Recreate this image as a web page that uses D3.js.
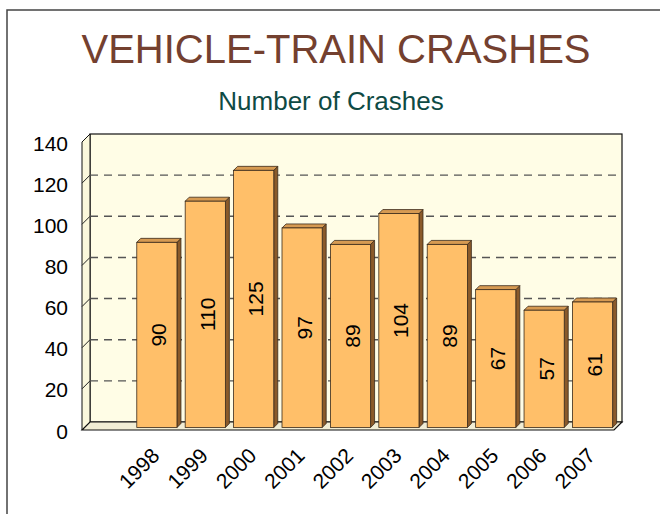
<!DOCTYPE html>
<html>
<head>
<meta charset="utf-8">
<script src="https://cdn.jsdelivr.net/npm/d3@7"></script>
<style>
  body { margin: 0; background: #fff; }
  svg text { font-family: "Liberation Sans", Arial, Helvetica, sans-serif; }
</style>
</head>
<body>
<svg id="chart" width="660" height="514"></svg>
<script>
// chart data
var years = ["1998", "1999", "2000", "2001", "2002", "2003", "2004", "2005", "2006", "2007"];
var crashes = [90, 110, 125, 97, 89, 104, 89, 67, 57, 61];
var yTicks = [0, 20, 40, 60, 80, 100, 120, 140];

var svg = d3.select('#chart');

// frame around the slide
svg.append('path')
  .attr('d', 'M7,514 L7,10 L660,10')
  .attr('fill', 'none')
  .attr('stroke', '#444')
  .attr('stroke-width', 1.5);

// titles
svg.append('text')
  .attr('x', 336).attr('y', 63)
  .attr('text-anchor', 'middle')
  .attr('font-size', 40)
  .attr('fill', '#74402f')
  .text('VEHICLE-TRAIN CRASHES');
svg.append('text')
  .attr('x', 331).attr('y', 110)
  .attr('text-anchor', 'middle')
  .attr('font-size', 26)
  .attr('fill', '#0e4a44')
  .text('Number of Crashes');

// 3d plot box
var left = 82, right = 614, depth = 8;
var y = d3.scaleLinear().domain([0, 140]).range([430, 142]);
var y0 = y(0), yTop = y(140);

// empty first slot, like the original sheet
var x = d3.scaleBand().domain([''].concat(years)).range([left, right]).paddingInner(0.17).paddingOuter(0.08);

var box = svg.append('g');
// back wall
box.append('rect')
  .attr('x', left + depth).attr('y', yTop - depth)
  .attr('width', right - left).attr('height', y0 - yTop)
  .attr('fill', '#fffde6').attr('stroke', '#111').attr('stroke-width', 1.2);
// side wall
box.append('path')
  .attr('d', 'M' + left + ',' + y0 + ' L' + left + ',' + yTop + ' L' + (left + depth) + ',' + (yTop - depth) + ' L' + (left + depth) + ',' + (y0 - depth) + 'Z')
  .attr('fill', '#fbf8dc').attr('stroke', '#111').attr('stroke-width', 1);
// floor
box.append('path')
  .attr('d', 'M' + left + ',' + y0 + ' L' + right + ',' + y0 + ' L' + (right + depth) + ',' + (y0 - depth) + ' L' + (left + depth) + ',' + (y0 - depth) + 'Z')
  .attr('fill', '#f1edd4').attr('stroke', '#111').attr('stroke-width', 1.2);

// gridlines on back wall and side wall
var grid = box.append('g');
yTicks.filter(function(v) { return v > 0 && v < 140; }).forEach(function(v) {
  grid.append('line')
    .attr('x1', left + depth).attr('x2', right + depth)
    .attr('y1', y(v) - depth).attr('y2', y(v) - depth)
    .attr('stroke', '#555').attr('stroke-width', 1.4)
    .attr('stroke-dasharray', '8,6');
  grid.append('line')
    .attr('x1', left).attr('x2', left + depth)
    .attr('y1', y(v)).attr('y2', y(v) - depth)
    .attr('stroke', '#222').attr('stroke-width', 1);
});

// y axis labels
svg.append('g').selectAll('text')
  .data(yTicks).enter().append('text')
  .attr('x', 68)
  .attr('y', function(d) { return y(d) + 1; })
  .attr('text-anchor', 'end')
  .attr('dominant-baseline', 'central')
  .attr('font-size', 21)
  .attr('fill', '#000')
  .text(function(d) { return d; });

// bars
var bd = 2.5, bdepth = 4;
var bars = svg.append('g').selectAll('g')
  .data(years).enter().append('g');

bars.each(function(yr, i) {
  var g = d3.select(this);
  var bx = x(yr) + bd, bw = x.bandwidth();
  var base = y0 - bd, top = y(crashes[i]) - bd;
  g.append('path')
    .attr('d', 'M' + (bx + bw) + ',' + top + ' L' + (bx + bw + bdepth) + ',' + (top - bdepth) + ' L' + (bx + bw + bdepth) + ',' + (base - bdepth) + ' L' + (bx + bw) + ',' + base + 'Z')
    .attr('fill', '#8a5a2a').attr('stroke', '#3a2a1a').attr('stroke-width', 0.8);
  g.append('path')
    .attr('d', 'M' + bx + ',' + top + ' L' + (bx + bdepth) + ',' + (top - bdepth) + ' L' + (bx + bw + bdepth) + ',' + (top - bdepth) + ' L' + (bx + bw) + ',' + top + 'Z')
    .attr('fill', '#d69a52').attr('stroke', '#3a2a1a').attr('stroke-width', 0.8);
  g.append('rect')
    .attr('x', bx).attr('y', top)
    .attr('width', bw).attr('height', base - top)
    .attr('fill', '#ffbf69').attr('stroke', '#3a2a1a').attr('stroke-width', 0.8);
  var cx = bx + bw / 2 + 2, cy = (top + base) / 2;
  g.append('text')
    .attr('transform', 'translate(' + cx + ',' + cy + ') rotate(-90)')
    .attr('text-anchor', 'middle')
    .attr('dominant-baseline', 'central')
    .attr('font-size', 21)
    .attr('fill', '#000')
    .text(crashes[i]);
});

// x axis labels
svg.append('g').selectAll('text')
  .data(years).enter().append('text')
  .attr('transform', function(d) {
    var cx = x(d) + x.bandwidth() / 2 + bd;
    return 'translate(' + (cx + 4) + ',' + 457 + ') rotate(-45)';
  })
  .attr('text-anchor', 'end')
  .attr('font-size', 21)
  .attr('fill', '#000')
  .text(function(d) { return d; });
</script>
</body>
</html>
